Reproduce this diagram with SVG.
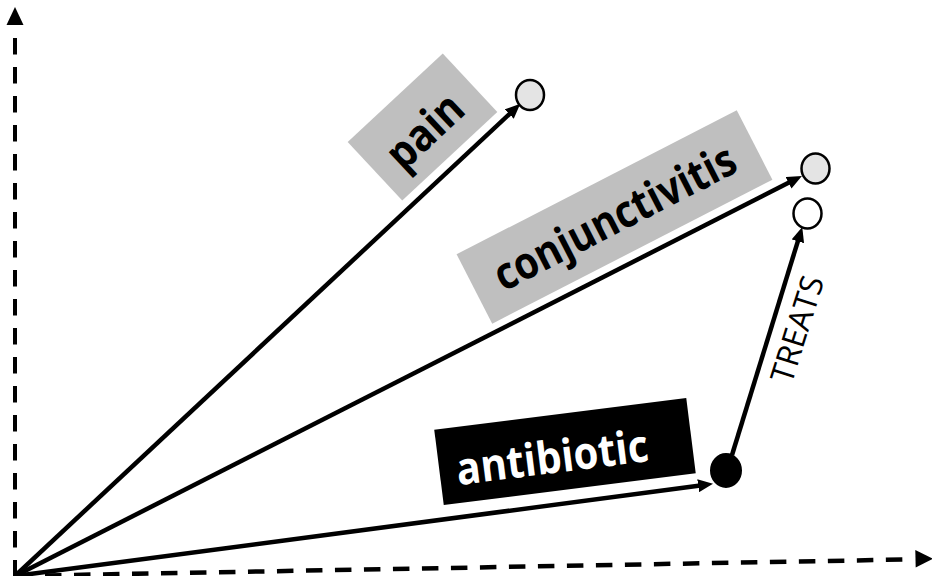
<svg xmlns="http://www.w3.org/2000/svg" width="932" height="576" viewBox="0 0 932 576">
  <style>
    .axis { fill: none; stroke: #000; stroke-width: 4; stroke-dasharray: 16.5 12.5; }
    .vec { fill: none; stroke: #000; stroke-width: 4.5; marker-end: url(#arrow); }
    .head { fill: #000; }
    .box { fill: #bfbfbf; }
    .boxdark { fill: #000; }
    .lbl { font-family: "Open Sans", "Liberation Sans", sans-serif; font-weight: 700; font-size: 45px; text-anchor: middle; fill: #000; }
    .lblw { fill: #fff; }
    .rel { font-family: "Open Sans", "Liberation Sans", sans-serif; font-size: 32px; text-anchor: middle; fill: #000; }
    .pt { fill: #e4e4e4; stroke: #000; stroke-width: 2.5; }
    .ptw { fill: #fff; stroke: #000; stroke-width: 2.5; }
    .ptb { fill: #000; stroke: #000; stroke-width: 2; }
  </style>
  <defs>
    <marker id="arrow" markerUnits="userSpaceOnUse" markerWidth="15" markerHeight="13" refX="6" refY="6.5" orient="auto">
      <path d="M0,0 L15,6.5 L0,13 z" fill="#000"/>
    </marker>
  </defs>
  <rect width="932" height="576" fill="#fff"/>

  <g id="connectors">
    <path class="axis" d="M15,576.5 V30"/>
    <polygon class="head" points="15,7 23.5,25 6.5,25"/>
    <path class="axis" style="stroke-width:4.5" d="M16,576 L911,559.4"/>
    <polygon class="head" points="933,558.8 915.3,550.1 915.7,567.5"/>
    <path class="vec" d="M15,576 L513.7,110"/>
    <path class="vec" d="M15,576 L793.9,180.1"/>
    <path class="vec" d="M15,576 L704.1,485"/>
    <path class="vec" d="M732,455 L799.6,235.6"/>
    <text class="rel" transform="translate(797,329) rotate(-72.5)" x="0" y="11.5" textLength="110" lengthAdjust="spacingAndGlyphs">TREATS</text>
  </g>

  <g id="label-pain" transform="translate(422.5,127) rotate(-43)">
    <rect class="box" x="-65" y="-40" width="130" height="80"/>
    <text class="lbl" x="-1" y="20" textLength="88" lengthAdjust="spacingAndGlyphs">pain</text>
  </g>
  <g id="label-conjunctivitis" transform="translate(614.5,217) rotate(-27.2)">
    <rect class="box" x="-157.5" y="-39" width="315" height="78"/>
    <text class="lbl" x="0" y="16" textLength="266" lengthAdjust="spacingAndGlyphs">conjunctivitis</text>
  </g>
  <g id="label-antibiotic" transform="translate(565,451.5) rotate(-7.2)">
    <rect class="boxdark" x="-127" y="-38" width="254" height="76"/>
    <text class="lbl lblw" x="-13.5" y="20" textLength="193" lengthAdjust="spacingAndGlyphs">antibiotic</text>
  </g>

  <g id="node-pain">
    <ellipse class="pt" cx="530" cy="95" rx="14" ry="15"/>
  </g>
  <g id="node-conjunctivitis">
    <ellipse class="pt" cx="815.5" cy="168.5" rx="14" ry="15"/>
  </g>
  <g id="node-treats-target">
    <ellipse class="ptw" cx="807.5" cy="213.5" rx="14" ry="15"/>
  </g>
  <g id="node-antibiotic">
    <ellipse class="ptb" cx="726" cy="470.5" rx="15" ry="16.5"/>
  </g>
</svg>
